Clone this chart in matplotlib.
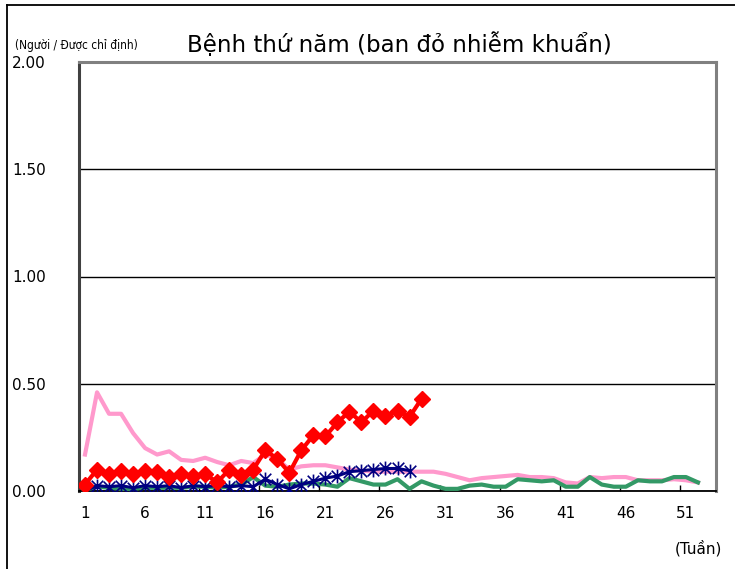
import matplotlib.pyplot as plt
from matplotlib.lines import Line2D
from matplotlib.path import Path

# Données (nombre par établissement désigné, par semaine)
tuan_52 = list(range(1, 53))
tuan_do = list(range(1, 30))
tuan_xanh = list(range(1, 29))

tb_hong = [0.17, 0.46, 0.36, 0.36, 0.27, 0.20, 0.17, 0.185, 0.145, 0.14,
           0.155, 0.135, 0.12, 0.14, 0.13, 0.17, 0.15, 0.10, 0.115, 0.12,
           0.12, 0.11, 0.10, 0.095, 0.09, 0.09, 0.09, 0.09, 0.09, 0.09,
           0.08, 0.065, 0.05, 0.06, 0.065, 0.07, 0.075, 0.065, 0.065, 0.06,
           0.04, 0.035, 0.065, 0.06, 0.065, 0.065, 0.05, 0.05, 0.05, 0.055,
           0.05, 0.04]

nam_xanh_la = [0.005, 0.02, 0.015, 0.01, 0.01, 0.015, 0.015, 0.015, 0.015, 0.02,
               0.02, 0.015, 0.02, 0.03, 0.065, 0.025, 0.02, 0.03, 0.035, 0.035,
               0.03, 0.02, 0.06, 0.045, 0.03, 0.03, 0.055, 0.01, 0.045, 0.025,
               0.01, 0.01, 0.025, 0.03, 0.02, 0.02, 0.055, 0.05, 0.045, 0.05,
               0.02, 0.02, 0.065, 0.03, 0.02, 0.02, 0.05, 0.045, 0.045, 0.065,
               0.065, 0.04]

nam_xanh = [0.0, 0.025, 0.02, 0.025, 0.015, 0.025, 0.02, 0.025, 0.015, 0.025,
            0.02, 0.025, 0.02, 0.025, 0.02, 0.055, 0.03, 0.01, 0.03, 0.045,
            0.06, 0.07, 0.09, 0.095, 0.10, 0.105, 0.105, 0.095]

nam_do = [0.03, 0.10, 0.08, 0.095, 0.08, 0.095, 0.09, 0.065, 0.08, 0.07,
          0.08, 0.04, 0.10, 0.075, 0.10, 0.19, 0.15, 0.085, 0.19, 0.26,
          0.255, 0.32, 0.37, 0.32, 0.375, 0.35, 0.375, 0.345, 0.43]

nhan_x = ['1', '6', '11', '16', '21', '26', '31', '36', '41', '46', '51']
nhan_y = ['0.00', '0.50', '1.00', '1.50', '2.00']

# dấu sao kiểu Excel: chữ X + vạch dọc
sao = Path([(-1, -1), (1, 1), (-1, 1), (1, -1), (0, -1.2), (0, 1.2)],
           [Path.MOVETO, Path.LINETO, Path.MOVETO, Path.LINETO, Path.MOVETO, Path.LINETO])

fig = plt.figure(figsize=(7.35, 5.69), dpi=100)
ax = fig.add_axes([79 / 735, 1 - 491 / 569, (716 - 79) / 735, (491 - 62) / 569])

ax.plot(tuan_52, tb_hong, color='#FF99CC', lw=3, zorder=2)
ax.plot(tuan_52, nam_xanh_la, color='#339966', lw=3, zorder=3)
ax.plot(tuan_xanh, nam_xanh, color='#000080', lw=2.2, marker=sao,
        ms=10, mew=1.2, zorder=4)
ax.plot(tuan_do, nam_do, color='#FF0000', lw=3, marker='D', ms=8.5, zorder=5)

ax.set_xlim(0.5, 53.5)
ax.set_ylim(0, 2.0)
ax.set_xticks([int(s) for s in nhan_x])
ax.set_xticklabels(nhan_x)
ax.set_xticks([k + 0.5 for k in range(5, 51, 5)], minor=True)
ax.tick_params(axis='x', which='major', length=0, pad=11, labelsize=11)
ax.tick_params(axis='x', which='minor', direction='in', length=4, width=1)
ax.set_yticks([float(s) for s in nhan_y])
ax.set_yticklabels(nhan_y)
ax.tick_params(axis='y', length=0, pad=24, labelsize=11)
ax.grid(axis='y', color='black', lw=1)

for s in ['top', 'right']:
    ax.spines[s].set_color('#808080')
    ax.spines[s].set_linewidth(2.2)
ax.spines['left'].set_color('#404040')
ax.spines['left'].set_linewidth(2.2)
ax.spines['bottom'].set_color('black')
ax.spines['bottom'].set_linewidth(1.3)

fig.text(399 / 735, 1 - 45 / 569, 'Bệnh thứ năm (ban đỏ nhiễm khuẩn)',
         ha='center', va='center', fontsize=16.5)
fig.text(15 / 735, 1 - 45 / 569, '(Người / Được chỉ định)', ha='left', va='center',
         fontsize=8.5, fontstretch='condensed',
         family=['DejaVu Sans Condensed', 'DejaVu Sans'])
fig.text(722 / 735, 1 - 548 / 569, '(Tuần)', ha='right', va='center', fontsize=11)

# khung ngoài
fig.add_artist(Line2D([7 / 735, 1], [1 - 5 / 569, 1 - 5 / 569], color='black', lw=1.3,
                      transform=fig.transFigure))
fig.add_artist(Line2D([7 / 735, 7 / 735], [0, 1 - 5 / 569], color='black', lw=1.3,
                      transform=fig.transFigure))

fig.savefig('out.png', dpi=100)
